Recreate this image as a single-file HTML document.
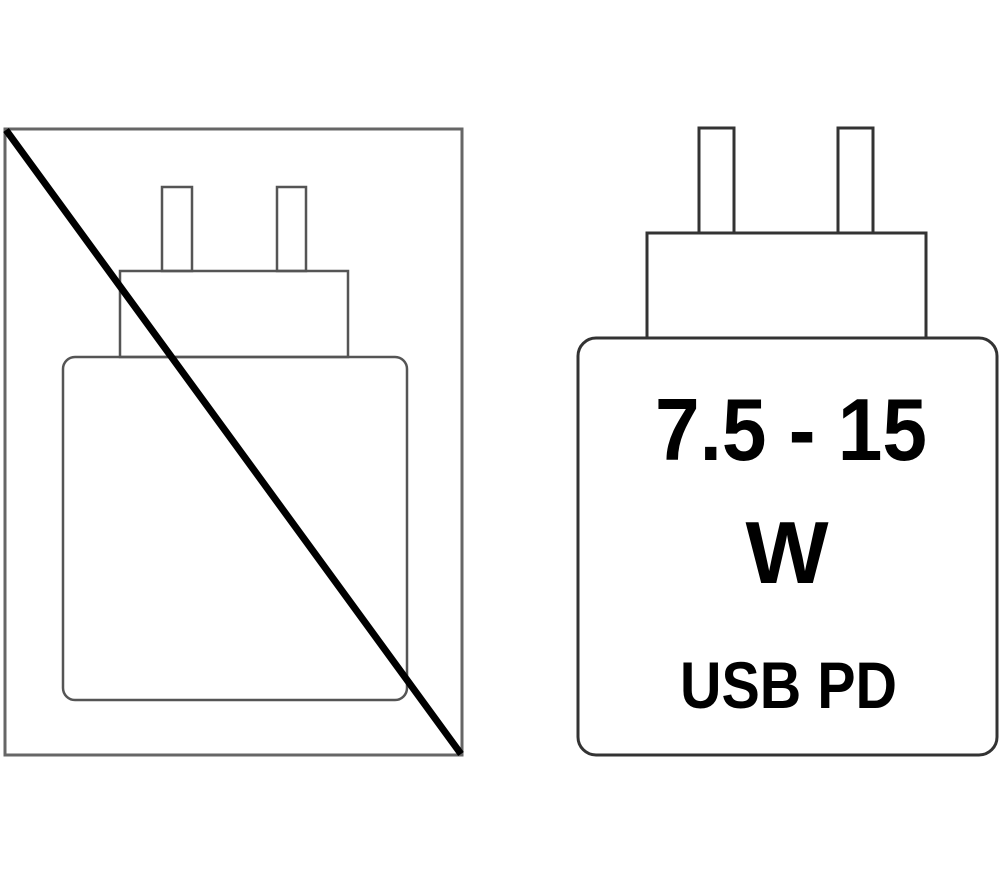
<!DOCTYPE html>
<html><head><style>html,body{margin:0;padding:0;background:#fff;width:1000px;height:887px;overflow:hidden}</style></head>
<body>
<svg width="1000" height="887" viewBox="0 0 1000 887" xmlns="http://www.w3.org/2000/svg">
<g fill="none" stroke="#555" stroke-width="2.5">
<rect x="5" y="129" width="457" height="626" stroke="#666" stroke-width="3"/>
<rect x="162" y="187" width="30" height="84"/>
<rect x="277" y="187" width="29" height="84"/>
<rect x="120" y="271" width="228" height="86"/>
<rect x="63" y="357" width="344" height="343" rx="12"/>
</g>
<line x1="6" y1="130" x2="461" y2="754" stroke="#000" stroke-width="7"/>
<g fill="none" stroke="#333" stroke-width="3">
<rect x="699" y="128" width="35" height="105"/>
<rect x="838" y="128" width="35" height="105"/>
<rect x="647" y="233" width="279" height="105"/>
<rect x="578" y="338" width="419" height="417" rx="18"/>
</g>
<g font-family="Liberation Sans, sans-serif" font-weight="bold" fill="#000">
<text x="655" y="460" font-size="88" textLength="272" lengthAdjust="spacingAndGlyphs">7.5 - 15</text>
<text x="787" y="583" font-size="88" text-anchor="middle">W</text>
<text x="680" y="708" font-size="66" textLength="217" lengthAdjust="spacingAndGlyphs">USB PD</text>
</g>
</svg>
</body></html>
